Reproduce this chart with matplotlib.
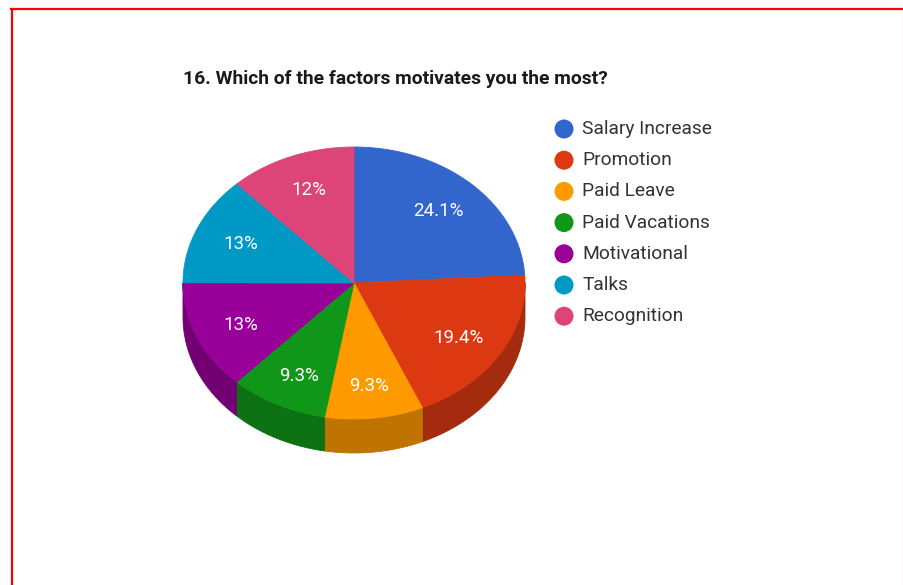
import numpy as np
import matplotlib.pyplot as plt
from matplotlib.patches import Polygon, Circle
from matplotlib.colors import to_rgb

# Respuestas de la pregunta 16
categorias = ['Salary Increase', 'Promotion', 'Paid Leave', 'Paid Vacations',
              'Motivational', 'Talks', 'Recognition']
porcentajes = [24.1, 19.4, 9.3, 9.3, 13, 13, 12]
colores = ['#3366cc', '#dc3912', '#ff9900', '#109618', '#990099', '#0099c6', '#dd4477']
titulo = '16. Which of the factors motivates you the most?'

plt.rcParams['font.family'] = ['Roboto', 'DejaVu Sans']

W, H = 904, 585
figura = plt.figure(figsize=(W / 100, H / 100), dpi=100)
ejes = figura.add_axes([0, 0, 1, 1])
ejes.set_xlim(0, W)
ejes.set_ylim(H, 0)
ejes.axis('off')

# Geometría del pastel en 3D (coordenadas en píxeles)
cx, cy = 354, 283
rx, ry = 171, 136
prof = 34


def oscurecer(c, f=0.75):
    r, g, b = to_rgb(c)
    return (r * f, g * f, b * f)


def elipse(t):
    # t en grados, sentido horario desde las 12
    t = np.radians(t)
    return cx + rx * np.sin(t), cy - ry * np.cos(t)


total = sum(porcentajes)
limites = np.concatenate([[0], np.cumsum(porcentajes)]) / total * 360

# Caras laterales (solo la mitad frontal, de 90 a 270 grados)
for i, color in enumerate(colores):
    a0, a1 = max(limites[i], 90), min(limites[i + 1], 270)
    if a1 <= a0:
        continue
    t = np.linspace(a0, a1, 80)
    x, y = elipse(t)
    pts = np.column_stack([np.r_[x, x[::-1]], np.r_[y, y[::-1] + prof]])
    ejes.add_patch(Polygon(pts, closed=True, facecolor=oscurecer(color),
                           edgecolor=oscurecer(color), linewidth=0.6))

# Caras superiores y etiquetas
for i, color in enumerate(colores):
    a0, a1 = limites[i], limites[i + 1]
    t = np.linspace(a0, a1, 120)
    x, y = elipse(t)
    pts = np.column_stack([np.r_[cx, x], np.r_[cy, y]])
    ejes.add_patch(Polygon(pts, closed=True, facecolor=color,
                           edgecolor=color, linewidth=0.6))
    medio = np.radians((a0 + a1) / 2)
    lx = cx + 0.72 * rx * np.sin(medio)
    ly = cy + 2 - 0.75 * ry * np.cos(medio)
    ejes.text(lx, ly, f'{porcentajes[i]:g}%', color='white', fontsize=13.5,
              ha='center', va='center')

# Título
ejes.text(183, 79, titulo, fontsize=13.9, fontweight='bold', color='#1a1a1a',
          ha='left', va='center')

# Leyenda
for i, (nombre, color) in enumerate(zip(categorias, colores)):
    yy = 129 + i * 31.2
    ejes.add_patch(Circle((564, yy), 9.5, facecolor=color, edgecolor='none'))
    ejes.text(582, yy, nombre, fontsize=13.8, color='#333333',
              ha='left', va='center')

# Marco rojo
ejes.plot([12, 12], [9, H + 5], color='#ff0000', linewidth=1.6, clip_on=False)
ejes.plot([11, W], [9, 9], color='#ff0000', linewidth=1.6, clip_on=False)
ejes.plot([903, 903], [9, H + 5], color='#ff6666', linewidth=0.8, clip_on=False)

figura.savefig('out.png', dpi=100)
plt.close(figura)
